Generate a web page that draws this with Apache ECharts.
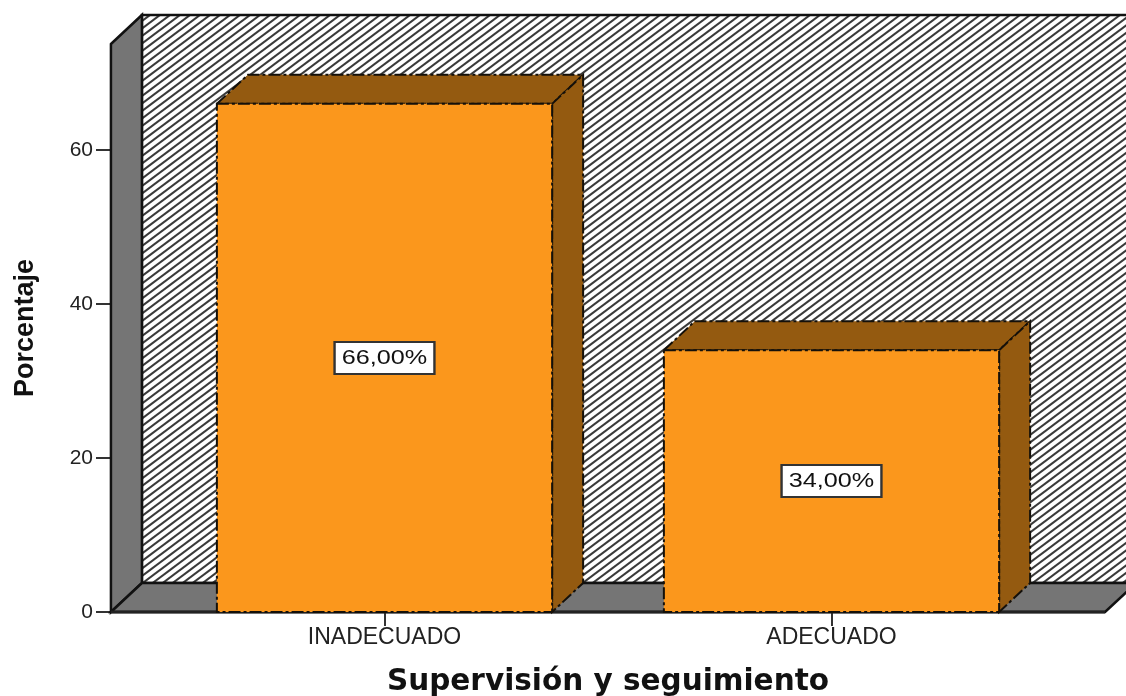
<!DOCTYPE html>
<html><head><meta charset="utf-8">
<style>html,body{margin:0;padding:0;background:#fff}#c{width:1126px;height:696px}</style>
<script src="https://cdn.jsdelivr.net/npm/echarts@6/dist/echarts.min.js"></script>
</head><body><div id="c"></div>
<script>
const categories = ['INADECUADO', 'ADECUADO'];
const percentages = [66, 34];
const barLabels = ['66,00%', '34,00%'];
const yTicks = [0, 20, 40, 60];
const axisTop = 73.77;
const xTitle = 'Supervisión y seguimiento';
const yTitle = 'Porcentaje';

const DX = 31, DY = -29;
const hatch = (function () {
  const c = document.createElement('canvas');
  c.width = 20; c.height = 15;
  const g = c.getContext('2d');
  g.fillStyle = '#fff'; g.fillRect(0, 0, 20, 15);
  g.strokeStyle = '#3a3a3a'; g.lineWidth = 2.1;
  for (let i = -3; i <= 3; i++) {
    const o = i * 10;
    g.beginPath(); g.moveTo(o - 4, 18); g.lineTo(o + 24, -3); g.stroke();
  }
  return c;
})();

function poly(points, fill, extra) {
  return { type: 'polygon', shape: { points }, style: Object.assign({ fill, stroke: '#111', lineWidth: 2.5 }, extra || {}) };
}

function renderRoom(params, api) {
  const bw = api.size([1, 0])[0];
  const l = api.coord([0, 0])[0] - bw * 0.612;
  const r = api.coord([1, 0])[0] + bw * 0.612;
  const b = api.coord([0, 0])[1];
  const t = api.coord([0, axisTop])[1];
  const W = params.coordSys.x + params.coordSys.width + 200;
  return {
    type: 'group',
    children: [
      poly([[l + DX, t + DY], [W, t + DY], [W, b + DY], [l + DX, b + DY]], { image: hatch, repeat: 'repeat' }),
      poly([[l, t], [l + DX, t + DY], [l + DX, b + DY], [l, b]], '#757575'),
      poly([[l, b], [l + DX, b + DY], [r + DX, b + DY], [r, b]], '#757575'),
      { type: 'line', shape: { x1: l, y1: b, x2: r, y2: b }, style: { stroke: '#222', lineWidth: 3 } }
    ]
  };
}

function renderBar(params, api) {
  const i = api.value(0);
  const v = api.value(1);
  const c = api.coord([i, v]);
  const c0 = api.coord([i, 0]);
  const m = api.coord([i, v / 2]);
  const hw = api.size([1, 0])[0] * 0.375;
  const l = c[0] - hw, r = c[0] + hw, t = c[1], b = c0[1];
  const dash = { stroke: '#14100a', lineWidth: 2, lineDash: [12, 3, 3, 3] };
  return {
    type: 'group',
    children: [
      poly([[l, t], [l + DX, t + DY], [r + DX, t + DY], [r, t]], '#945A10', dash),
      poly([[r, t], [r + DX, t + DY], [r + DX, b + DY], [r, b]], '#945A10', dash),
      poly([[l, t], [r, t], [r, b], [l, b]], '#FB971C', dash),
      {
        type: 'text',
        x: c[0], y: m[1],
        scaleX: 1.2,
        style: {
          text: barLabels[i], fontFamily: 'Liberation Sans', fontSize: 21, fill: '#111',
          align: 'center', verticalAlign: 'middle',
          backgroundColor: '#fff', borderColor: '#333', borderWidth: 2, padding: [5, 5, 4, 5]
        },
        z2: 10
      }
    ]
  };
}

const chart = echarts.init(document.getElementById('c'), null, { renderer: 'canvas' });
chart.setOption({
  animation: false,
  backgroundColor: '#fff',
  grid: { left: 161, right: 71, top: 44, bottom: 84, outerBoundsMode: 'none' },
  xAxis: {
    type: 'category', data: categories,
    axisLine: { show: false },
    axisTick: { show: true, alignWithLabel: true, length: 14, lineStyle: { color: '#333', width: 2 } },
    axisLabel: { color: '#222', fontFamily: 'Liberation Sans', fontSize: 23, margin: 14, interval: 0 },
    name: xTitle, nameLocation: 'middle', nameGap: 55,
    nameTextStyle: { fontFamily: 'DejaVu Sans', fontWeight: 'bold', fontSize: 29.5, color: '#111' }
  },
  yAxis: {
    type: 'value', min: 0, max: axisTop, offset: 50,
    splitLine: { show: false },
    axisLine: { show: false },
    axisTick: { show: true, length: 15, customValues: yTicks, lineStyle: { color: '#333', width: 2 } },
    axisLabel: { color: '#222', fontFamily: 'Liberation Sans', fontSize: 21, margin: 18, customValues: yTicks },
    name: yTitle, nameLocation: 'middle', nameGap: 72,
    nameTextStyle: { fontFamily: 'Liberation Sans', fontWeight: 'bold', fontSize: 27, color: '#111' }
  },
  series: [
    { type: 'custom', clip: false, silent: true, z: 1, renderItem: renderRoom, data: [[0, 0]] },
    { type: 'custom', clip: false, z: 2, renderItem: renderBar, encode: { x: 0, y: 1 },
      data: percentages.map((v, i) => [i, v]) }
  ]
});
</script></body></html>
